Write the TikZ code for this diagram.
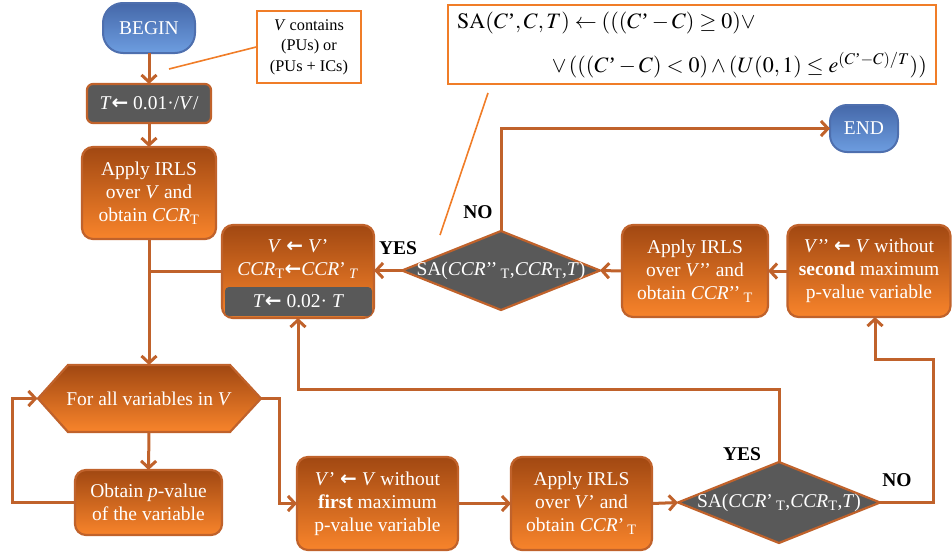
\documentclass[tikz,border=0pt]{standalone}
\usepackage{amsmath}
\usepackage{mathptmx}
\usepackage{fontspec}
\setmainfont{Liberation Serif}[BoldFont={* Bold}, ItalicFont={* Italic}, BoldItalicFont={* Bold Italic}]
\newfontfamily\arrfont{DejaVu Sans}[BoldFont={* Bold}]
\newcommand{\larr}{{\arrfont\bfseries\fontsize{20}{20}\selectfont ←}}
\usetikzlibrary{arrows.meta,shapes.geometric}

\definecolor{lnc}{HTML}{C0622B}
\definecolor{otop}{HTML}{A14812}
\definecolor{obot}{HTML}{F8842B}
\definecolor{gry}{HTML}{595959}
\definecolor{btop}{HTML}{4568A9}
\definecolor{bbot}{HTML}{6D9DE0}
\definecolor{bbrd}{HTML}{4E6FAE}
\definecolor{call}{HTML}{F07D28}

\begin{document}
\begin{tikzpicture}[x=1pt,y=-1pt,
  base/.style={inner sep=0pt, outer sep=0pt, align=center, font=\fontsize{19.5}{23}\selectfont},
  obox/.style={base, rounded corners=11pt, draw=lnc, line width=2.2pt, top color=otop, bottom color=obot, text=white},
  gbox/.style={base, rounded corners=6pt, draw=lnc, line width=2.2pt, fill=gry, text=white},
  term/.style={base, rounded corners=20pt, draw=bbrd, line width=2pt, top color=btop, bottom color=bbot, text=white},
  decision/.style={diamond, draw=lnc, line width=2.2pt, fill=gry, inner sep=0pt, outer sep=0pt},
  wtext/.style={base, text=white},
  conn/.style={draw=lnc, line width=3pt},
  arr/.style={conn, -{Straight Barb[length=7pt,width=15pt]}},
  lbl/.style={inner sep=0pt, font=\fontsize{19.5}{23}\selectfont\bfseries},
  callbox/.style={draw=call, line width=1.6pt, fill=white, inner sep=0pt, align=center},
  calline/.style={draw=call, line width=1.6pt},
  ftext/.style={inner sep=0pt, font=\fontsize{22}{26}\selectfont}]

\useasboundingbox (0,0) rectangle (952,554);

% notes
\node[callbox, minimum width=104pt, minimum height=72pt, font=\fontsize{16.3}{20.5}\selectfont] (note) at (309,47)
  {\textit{V} contains\\(PUs) or\\(PUs + ICs)};
\coordinate (noteTip) at (169,69);
\draw[calline] (noteTip) -- (note.west);

\node[callbox, minimum width=488pt, minimum height=79pt] (formula) at (692,44.5) {};
\node[ftext, anchor=base west] (fline1) at (457,28)
  {$\mathrm{SA}(C\text{’},C,T)\leftarrow(((C\text{’}-C)\geq 0)\vee$};
\node[ftext, anchor=base east] (fline2) at (927,72)
  {$\vee\,(((C\text{’}-C)<0)\wedge(U(0,1)\leq e^{(C\text{’}-C)/T}))$};
\coordinate (fA) at (488,93);
\coordinate (fB) at (440,235);
\draw[calline] (fA) -- (fB);

% terminators
\node[term, minimum width=92pt, minimum height=50pt] (begin) at (149,28) {BEGIN};
\node[term, minimum width=68pt, minimum height=47pt, rounded corners=17pt] (endn) at (864,128.5) {END};

% left column
\node[gbox, minimum width=124pt, minimum height=39pt] (tinit) at (149,103.5) {\textit{T}\larr\ 0.01·/\textit{V}/};
\node[obox, minimum width=134pt, minimum height=92pt] (irls1) at (149,193)
  {Apply IRLS\\over \textit{V} and\\obtain \textit{CCR}\textsubscript{T}};

% accept box
\node[obox, minimum width=152pt, minimum height=93pt] (vbox) at (298,271.5) {};
\node[gbox, draw=none, rounded corners=4pt, minimum width=147pt, minimum height=29pt] (vband) at (298.5,301.5)
  {\textit{T}\larr\ 0.02· \textit{T}};
\node[wtext] (vtext) at (298,259)
  {\textit{V} \larr\ \textit{V}’\\\textit{CCR}\textsubscript{T}\larr\textit{CCR}’\,\textsubscript{\textit{T}}};

% first decision
\node[decision, minimum width=198pt, minimum height=79pt] (d1) at (501,270.5) {};
\node[wtext] (d1t) at (d1) {SA(\textit{CCR}’’\,\textsubscript{T},\textit{CCR}\textsubscript{T},\textit{T})};

\node[obox, minimum width=146pt, minimum height=92pt] (irls2) at (695,271)
  {Apply IRLS\\over \textit{V}’’ and\\obtain \textit{CCR}’’\,\textsubscript{T}};
\node[obox, minimum width=163pt, minimum height=92pt] (vpp) at (869,271)
  {\textit{V}’’ \larr\ \textit{V} without\\\textbf{second} maximum\\p-value variable};

% loop over variables
\path[draw=lnc, line width=2.2pt, top color=otop, bottom color=obot]
  (38,398.5) -- (68,365) -- (230,365) -- (261,398.5) -- (230,432) -- (68,432) -- cycle;
\node[wtext, minimum width=223pt, minimum height=67pt] (hex) at (149,398.5) {For all variables in \textit{V}};
\node[obox, minimum width=147pt, minimum height=65pt] (obtain) at (148.5,502.5)
  {Obtain \textit{p}-value\\of the variable};

% bottom row
\node[obox, minimum width=161pt, minimum height=93pt] (vp) at (377.5,503.5)
  {\textit{V}’ \larr\ \textit{V} without\\\textbf{first} maximum\\p-value variable};
\node[obox, minimum width=141pt, minimum height=93pt] (irls3) at (581.5,503.5)
  {Apply IRLS\\over \textit{V}’ and\\obtain \textit{CCR}’\,\textsubscript{T}};
\node[decision, minimum width=202pt, minimum height=81pt] (d2) at (779,502.5) {};
\node[wtext] (d2t) at (d2) {SA(\textit{CCR}’\,\textsubscript{T},\textit{CCR}\textsubscript{T},\textit{T})};

% branch labels
\node[lbl, anchor=base] (yes1) at (398,254) {YES};
\node[lbl, anchor=base] (no1) at (478,218) {NO};
\node[lbl, anchor=base] (yes2) at (742,460) {YES};
\node[lbl, anchor=base] (no2) at (897,486) {NO};

% connectors
\draw[arr] (begin) -- (tinit);
\draw[arr] (tinit) -- (irls1);
\draw[arr] (irls1.south) -- (hex.north);
\draw[conn] (vbox.west) -- (vbox.west -| irls1.south);
\draw[arr] (d1.west) -- (vbox.east |- d1.west);
\draw[arr] (d1.north) |- (endn.west);
\draw[arr] (irls2.west) -- (d1.east);
\draw[arr] (vpp.west) -- (irls2.east);
\draw[arr] (hex.south) -- (obtain.north);
\coordinate (lpA) at (12,502.5);
\draw[arr] (obtain.west) -- (lpA) |- (hex.west);
\coordinate (rtA) at (279,398.5);
\draw[arr] (hex.east) -- (rtA) |- (vp.west);
\draw[arr] (vp.east) -- (irls3.west);
\draw[arr] (irls3.east) -- (d2.west);
\coordinate (ysA) at (779,389);
\draw[arr] (d2.north) -- (ysA) -| (vbox.south);
\coordinate (noA) at (933,502.5);
\coordinate (noB) at (933,359);
\coordinate (noC) at (875,359);
\draw[arr] (d2.east) -- (noA) -- (noB) -- (noC) -- (noC |- vpp.south);

\end{tikzpicture}
\end{document}
